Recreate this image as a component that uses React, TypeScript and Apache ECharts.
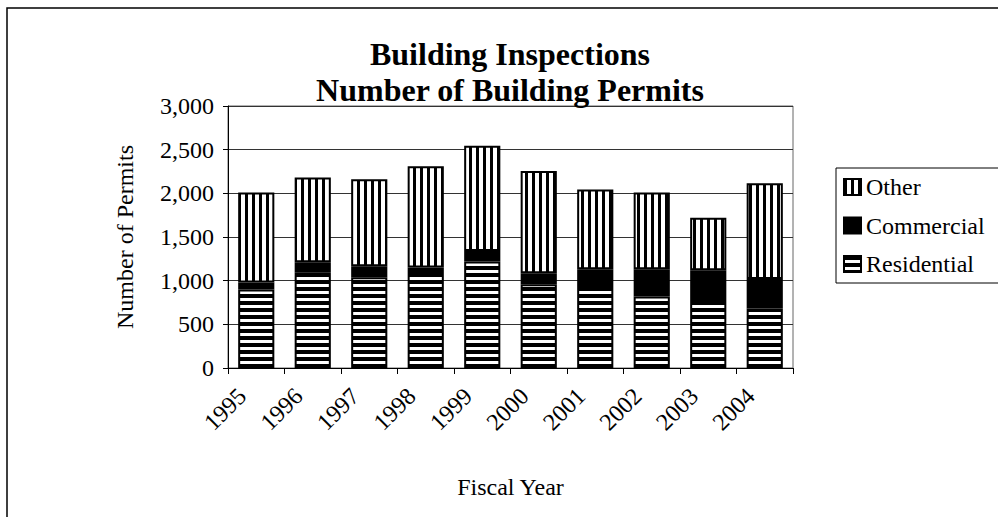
import React, { useEffect, useRef } from "react";
import * as echarts from "echarts";

const years = ["1995", "1996", "1997", "1998", "1999", "2000", "2001", "2002", "2003", "2004"];
const residential = [900, 1090, 1040, 1075, 1220, 960, 915, 820, 790, 680];
const commercial = [80, 120, 125, 75, 120, 125, 215, 310, 330, 340];
const other = [1030, 970, 995, 1160, 1205, 1170, 915, 880, 600, 1095];
const legendOrder = ["Other", "Commercial", "Residential"];
const yTicks = { min: 0, max: 3000, interval: 500 };

const FONT = "Liberation Serif";

function stripes(vertical: boolean, black: number, white: number) {
  const c = document.createElement("canvas");
  const p = black + white;
  c.width = vertical ? p : 8;
  c.height = vertical ? 8 : p;
  const ctx = c.getContext("2d")!;
  ctx.fillStyle = "#fff";
  ctx.fillRect(0, 0, c.width, c.height);
  ctx.fillStyle = "#000";
  if (vertical) ctx.fillRect(0, 0, black, c.height);
  else ctx.fillRect(0, 0, c.width, black);
  return { image: c, repeat: "repeat" as const };
}

export default function App() {
  const ref = useRef<HTMLDivElement>(null);
  useEffect(() => {
    document.body.style.margin = "0";
    const chart = echarts.init(ref.current!, null, { renderer: "svg" });
    const resPat = stripes(false, 4, 3);
    const othPat = stripes(true, 3, 4);
    const common = {
      type: "bar",
      stack: "total",
      barWidth: "64%",
    };
    const legendText = { fontFamily: FONT, fontSize: 24, color: "#000" };
    chart.setOption({
      animation: false,
      backgroundColor: "#fff",
      textStyle: { fontFamily: FONT, color: "#000" },
      title: {
        text: "Building Inspections\nNumber of Building Permits",
        left: 510,
        top: 36,
        padding: 0,
        textAlign: "center",
        textStyle: { fontFamily: FONT, fontSize: 32, fontWeight: "bold", color: "#000", lineHeight: 36 },
      },
      legend: {
        orient: "vertical",
        left: 836,
        top: 168,
        padding: [7, 22, 7, 7],
        itemGap: 14.5,
        itemWidth: 17,
        itemHeight: 16,
        icon: "rect",
        borderColor: "#000",
        borderWidth: 1,
        data: legendOrder.map((n) => ({ name: n, textStyle: legendText })),
        textStyle: legendText,
      },
      graphic: [
        {
          type: "rect",
          shape: { x: 7, y: 8, width: 1200, height: 1000 },
          style: { fill: "none", stroke: "#000", lineWidth: 1.5 },
          z: -1,
          silent: true,
        },
      ],
      grid: {
        left: 228,
        top: 106,
        width: 565,
        height: 262,
        show: true,
        borderColor: "#666",
        borderWidth: 1,
      },
      xAxis: {
        type: "category",
        data: years,
        name: "Fiscal Year",
        nameLocation: "middle",
        nameGap: 107,
        nameTextStyle: { fontFamily: FONT, fontSize: 24, color: "#000" },
        axisLine: { lineStyle: { color: "#000", width: 1 } },
        axisTick: { show: true, length: 6, alignWithLabel: false, lineStyle: { color: "#000" } },
        axisLabel: {
          interval: 0,
          rotate: 45,
          margin: 10,
          padding: [0, 20, 0, 0],
          fontFamily: FONT,
          fontSize: 24,
          color: "#000",
        },
      },
      yAxis: {
        type: "value",
        min: yTicks.min,
        max: yTicks.max,
        interval: yTicks.interval,
        name: "Number of Permits",
        nameLocation: "middle",
        nameGap: 91,
        nameTextStyle: { fontFamily: FONT, fontSize: 24, color: "#000" },
        axisLine: { show: true, lineStyle: { color: "#000", width: 1 } },
        axisTick: { show: true, length: 5, lineStyle: { color: "#000" } },
        axisLabel: {
          margin: 14,
          fontFamily: FONT,
          fontSize: 24,
          color: "#000",
          formatter: (v: number) => v.toLocaleString("en-US"),
        },
        splitLine: { show: true, lineStyle: { color: "#333", width: 1 } },
      },
      series: [
        {
          ...common,
          name: "Residential",
          data: residential,
          itemStyle: { color: resPat, borderColor: "#000", borderWidth: 2 },
        },
        {
          ...common,
          name: "Commercial",
          data: commercial,
          itemStyle: { color: "#000", borderColor: "#000", borderWidth: 2 },
        },
        {
          ...common,
          name: "Other",
          data: other,
          itemStyle: { color: othPat, borderColor: "#000", borderWidth: 2 },
        },
      ],
    });
    return () => chart.dispose();
  }, []);
  return <div ref={ref} style={{ width: 998, height: 517 }} />;
}
